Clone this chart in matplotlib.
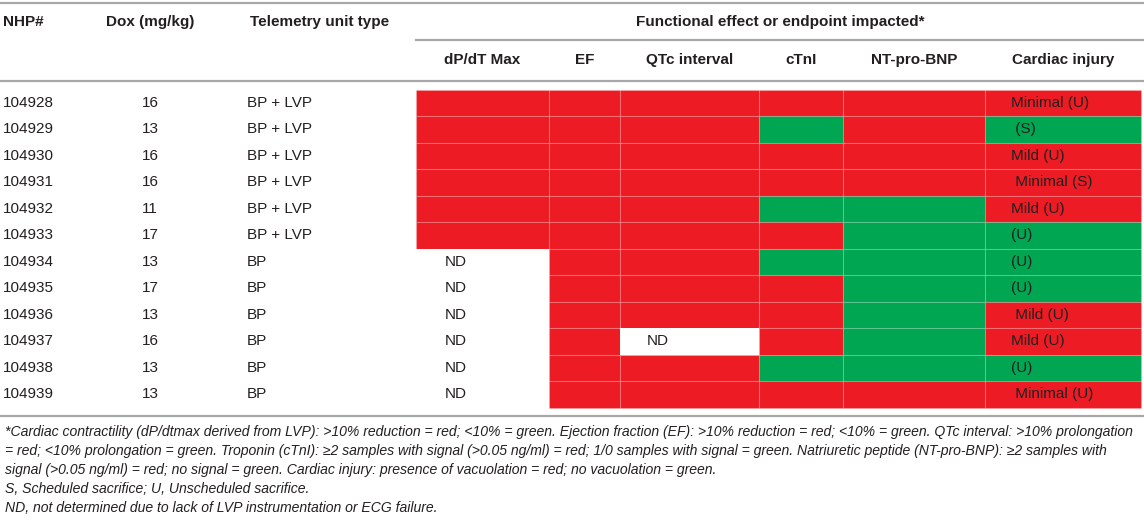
import matplotlib
matplotlib.use('Agg')
from matplotlib import pyplot as plt
from matplotlib import font_manager

# table content
nhp_ids = ['104928', '104929', '104930', '104931', '104932', '104933',
           '104934', '104935', '104936', '104937', '104938', '104939']
dox = [16, 13, 16, 16, 11, 17, 13, 17, 13, 16, 13, 13]
unit_type = ['BP + LVP'] * 6 + ['BP'] * 6
endpoints = ['dP/dT Max', 'EF', 'QTc interval', 'cTnI', 'NT-pro-BNP', 'Cardiac injury']

# R = impacted (red), G = not impacted (green), ND = not determined
dpdt = ['R'] * 6 + ['ND'] * 6
ef = ['R'] * 12
qtc = ['R', 'R', 'R', 'R', 'R', 'R', 'R', 'R', 'R', 'ND', 'R', 'R']
ctni = ['R', 'G', 'R', 'R', 'G', 'R', 'G', 'R', 'R', 'R', 'G', 'R']
ntprobnp = ['R', 'R', 'R', 'R', 'G', 'G', 'G', 'G', 'G', 'G', 'G', 'R']
injury = ['R', 'G', 'R', 'R', 'R', 'G', 'G', 'G', 'R', 'R', 'G', 'R']
injury_text = ['Minimal (U)', ' (S)', 'Mild (U)', ' Minimal (S)', 'Mild (U)', '(U)',
               '(U)', '(U)', ' Mild (U)', 'Mild (U)', '(U)', ' Minimal (U)']

footnotes = [
    '*Cardiac contractility (dP/dtmax derived from LVP): >10% reduction = red; <10% = green. '
    'Ejection fraction (EF): >10% reduction = red; <10% = green. QTc interval: >10% prolongation',
    '= red; <10% prolongation = green. Troponin (cTnI): \u22652 samples with signal (>0.05 ng/ml) = red; '
    '1/0 samples with signal = green. Natriuretic peptide (NT-pro-BNP): \u22652 samples with',
    'signal (>0.05 ng/ml) = red; no signal = green. Cardiac injury: presence of vacuolation = red; '
    'no vacuolation = green.',
    'S, Scheduled sacrifice; U, Unscheduled sacrifice.',
    'ND, not determined due to lack of LVP instrumentation or ECG failure.',
]

RED = '#ED1C24'
GREEN = '#00A651'
TXT = '#231F20'
RULE = '#A8A8A8'
FONT = 'Liberation Sans'

W, H = 1144, 523
fig = plt.figure(figsize=(W / 100, H / 100), dpi=100)
ax = fig.add_axes([0, 0, 1, 1])
ax.set_xlim(0, W)
ax.set_ylim(H, 0)
ax.axis('off')

col_edges = [416, 549, 620, 759, 843, 985, 1141]
row_top, row_h = 89.5, 26.5
rows = [row_top + row_h * (i + 0.5) for i in range(len(nhp_ids))]

# colored cells, one column at a time
statuses = [dpdt, ef, qtc, ctni, ntprobnp, injury]
cmap = {'R': RED, 'G': GREEN, 'ND': 'white'}
for j, col in enumerate(statuses):
    left = col_edges[j]
    width = col_edges[j + 1] - col_edges[j]
    colors = [cmap[s] for s in col]
    edges = [(1, 1, 1, 0.12) if s != 'ND' else 'none' for s in col]
    ax.barh(rows, width, left=left, height=row_h, color=colors,
            edgecolor=edges, linewidth=0.8)
    for y, s in zip(rows, col):
        if s == 'ND':
            ax.text(left + 29 if j == 0 else left + 27, y, 'ND', fontsize=11,
                    family=FONT, color=TXT, va='center', ha='left')

# rules
ax.plot([0, W], [3, 3], color=RULE, lw=1.6)
ax.plot([col_edges[0], W], [40, 40], color=RULE, lw=1.6)
ax.plot([0, W], [81, 81], color=RULE, lw=1.6)
ax.plot([0, W], [416, 416], color=RULE, lw=1.6)

# headers
hkw = dict(fontsize=11, family=FONT, fontweight='bold', color=TXT, va='center')
ax.text(3, 22, 'NHP#', ha='left', **hkw)
ax.text(150, 22, 'Dox (mg/kg)', ha='center', **hkw)
ax.text(250, 22, 'Telemetry unit type', ha='left', **hkw)
ax.text(780, 22, 'Functional effect or endpoint impacted*', ha='center', **hkw)
for j, name in enumerate(endpoints):
    ax.text((col_edges[j] + col_edges[j + 1]) / 2, 60, name, ha='center', **hkw)

# body text
bkw = dict(fontsize=11, family=FONT, color=TXT, va='center')
for y, a, d, u, t in zip(rows, nhp_ids, dox, unit_type, injury_text):
    ax.text(3, y, a, ha='left', **bkw)
    ax.text(150, y, str(d), ha='center', **bkw)
    ax.text(247, y, u, ha='left', **bkw)
    ax.text(1011, y, t, ha='left', **bkw)

# footnotes, sized to fill the width like the original
fn_family = FONT
try:
    font_manager.findfont('Liberation Sans Narrow', fallback_to_default=False)
    fn_family = 'Liberation Sans Narrow'
except Exception:
    pass
fig.canvas.draw()
r = fig.canvas.get_renderer()
probe = ax.text(5, 0, footnotes[0], fontsize=10, family=fn_family, style='italic')
wpx = probe.get_window_extent(renderer=r).width
probe.remove()
fn_size = 10 * 1134 / wpx
for i, line in enumerate(footnotes):
    ax.text(5, 432 + 19 * i, line, fontsize=fn_size, family=fn_family,
            style='italic', color=TXT, va='center', ha='left')

fig.savefig('out.png', dpi=100)
